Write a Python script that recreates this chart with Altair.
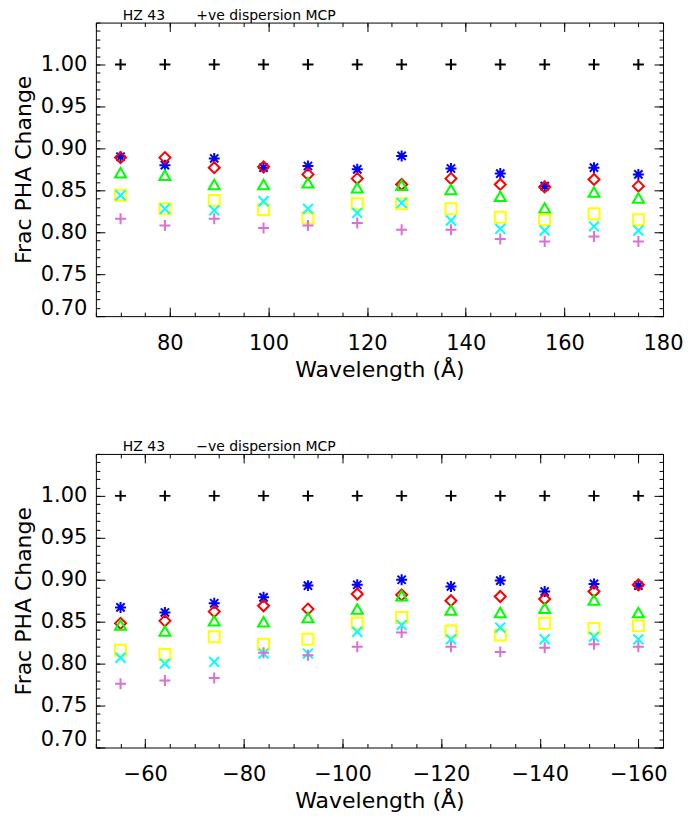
import altair as alt
import pandas as pd

# ---------------- data ----------------
series = ["ref", "s1", "s2", "s3", "s4", "s5", "s6"]
colors = ["#000000", "#0000FF", "#FF0000", "#00FF00", "#FFFF00", "#00FFFF", "#DA70D6"]

top_x = [70, 79, 89, 99, 108, 118, 127, 137, 147, 156, 166, 175]
top_ref = [1.00, 1.00, 1.00, 1.00, 1.00, 1.00, 1.00, 1.00, 1.00, 1.00, 1.00, 1.00]
top_blue = [0.890, 0.880, 0.888, 0.877, 0.879, 0.875, 0.891, 0.876, 0.870, 0.855, 0.877, 0.869]
top_red = [0.889, 0.889, 0.877, 0.878, 0.869, 0.864, 0.857, 0.864, 0.857, 0.854, 0.863, 0.855]
top_green = [0.871, 0.868, 0.857, 0.857, 0.859, 0.853, 0.856, 0.851, 0.843, 0.829, 0.848, 0.841]
top_yellow = [0.844, 0.828, 0.838, 0.827, 0.817, 0.834, 0.834, 0.828, 0.818, 0.815, 0.822, 0.815]
top_cyan = [0.844, 0.828, 0.826, 0.837, 0.828, 0.823, 0.835, 0.814, 0.804, 0.802, 0.807, 0.802]
top_magenta = [0.816, 0.808, 0.816, 0.805, 0.808, 0.811, 0.803, 0.803, 0.792, 0.789, 0.795, 0.789]

bot_x = [-55, -64, -74, -84, -93, -103, -112, -122, -132, -141, -151, -160]
bot_ref = [1.00, 1.00, 1.00, 1.00, 1.00, 1.00, 1.00, 1.00, 1.00, 1.00, 1.00, 1.00]
bot_blue = [0.867, 0.861, 0.872, 0.879, 0.893, 0.894, 0.900, 0.892, 0.899, 0.886, 0.895, 0.893]
bot_red = [0.848, 0.851, 0.862, 0.869, 0.865, 0.883, 0.882, 0.875, 0.880, 0.877, 0.886, 0.894]
bot_green = [0.846, 0.839, 0.851, 0.850, 0.855, 0.865, 0.881, 0.864, 0.861, 0.866, 0.876, 0.861]
bot_yellow = [0.816, 0.811, 0.832, 0.823, 0.829, 0.848, 0.855, 0.839, 0.834, 0.848, 0.842, 0.845]
bot_cyan = [0.807, 0.800, 0.802, 0.812, 0.812, 0.838, 0.846, 0.829, 0.843, 0.829, 0.832, 0.829]
bot_magenta = [0.776, 0.780, 0.783, 0.813, 0.810, 0.820, 0.837, 0.820, 0.814, 0.819, 0.823, 0.820]

top_major_x = [80, 100, 120, 140, 160, 180]
top_minor_x = [65, 70, 75, 80, 85, 90, 95, 100, 105, 110, 115, 120, 125, 130, 135, 140, 145, 150, 155, 160, 165, 170, 175, 180]
bot_major_x = [-60, -80, -100, -120, -140, -160]
bot_minor_x = [-50, -55, -60, -65, -70, -75, -80, -85, -90, -95, -100, -105, -110, -115, -120, -125, -130, -135, -140, -145, -150, -155, -160, -165]
major_y = [0.70, 0.75, 0.80, 0.85, 0.90, 0.95, 1.00]
labelled_y = [0.75, 0.80, 0.85, 0.90, 0.95, 1.00]
bottom_y = [0.70]
minor_y = [0.70, 0.71, 0.72, 0.73, 0.74, 0.75, 0.76, 0.77, 0.78, 0.79, 0.80, 0.81, 0.82, 0.83, 0.84,
           0.85, 0.86, 0.87, 0.88, 0.89, 0.90, 0.91, 0.92, 0.93, 0.94, 0.95, 0.96, 0.97, 0.98, 0.99,
           1.00, 1.01, 1.02, 1.03, 1.04, 1.05]

PLUS = "M-1,0L1,0M0,-1L0,1"
STAR = "M-1,0L1,0M0,-1L0,1M-0.75,-0.75L0.75,0.75M-0.75,0.75L0.75,-0.75"
XCROSS = "M-0.9,-0.9L0.9,0.9M-0.9,0.9L0.9,-0.9"
shapes = [PLUS, STAR, "diamond", "triangle-up", "square", XCROSS, PLUS]

FONT = "DejaVu Sans"
W, H = 568, 294


def make_df(xs, cols):
    rows = []
    for s, vals in zip(series, cols):
        for x, v in zip(xs, vals):
            rows.append({"x": x, "y": v, "s": s})
    return pd.DataFrame(rows)


top_df = make_df(top_x, [top_ref, top_blue, top_red, top_green, top_yellow, top_cyan, top_magenta])
bot_df = make_df(bot_x, [bot_ref, bot_blue, bot_red, bot_green, bot_yellow, bot_cyan, bot_magenta])


def tick_axis(orient, values, size, labels=False, **kw):
    return alt.Axis(orient=orient, values=values, tickSize=size, offset=-size, domain=False,
                    grid=False, labels=labels, tickColor="black", tickWidth=1, **kw)


def panel(df, xdomain, xreverse, major_x, minor_x, title):
    xs = alt.Scale(domain=xdomain, reverse=xreverse, nice=False, zero=False)
    ys = alt.Scale(domain=[0.70, 1.05], nice=False, zero=False)
    base = alt.Chart(df)
    ylab = dict(labelFontSize=21, labelPadding=9, labelOverlap=False, labelColor="black",
                labelFont=FONT, format=".2f")

    pts = base.mark_point(filled=False, strokeWidth=2, size=121, opacity=1).encode(
        x=alt.X("x:Q", scale=xs, title="Wavelength (Å)",
                axis=tick_axis("bottom", major_x, 9, labels=True, labelFontSize=21, labelPadding=16,
                               labelFlush=False, labelOverlap=False, labelColor="black", labelFont=FONT,
                               format="d", titleFontSize=22, titleFont=FONT, titleFontWeight="normal",
                               titleColor="black", titlePadding=6)),
        y=alt.Y("y:Q", scale=ys, title="Frac PHA Change",
                axis=tick_axis("left", labelled_y, 9, labels=True, titleFontSize=22, titleFont=FONT,
                               titleFontWeight="normal", titleColor="black", titlePadding=5, **ylab)),
        color=alt.Color("s:N", scale=alt.Scale(domain=series, range=colors), legend=None),
        shape=alt.Shape("s:N", scale=alt.Scale(domain=series, range=shapes), legend=None),
    )
    lab_bottom = base.mark_point(opacity=0).encode(
        x=alt.X("x:Q", scale=xs, title=None, axis=None),
        y=alt.Y("y:Q", scale=ys, title=None,
                axis=tick_axis("left", bottom_y, 9, labels=True, labelOffset=-8, **ylab)),
    )
    minor_bl = base.mark_point(opacity=0).encode(
        x=alt.X("x:Q", scale=xs, title=None, axis=tick_axis("bottom", minor_x, 4)),
        y=alt.Y("y:Q", scale=ys, title=None, axis=tick_axis("left", minor_y, 4)),
    )
    major_tr = base.mark_point(opacity=0).encode(
        x=alt.X("x:Q", scale=xs, title=None, axis=tick_axis("top", major_x, 9)),
        y=alt.Y("y:Q", scale=ys, title=None, axis=tick_axis("right", major_y, 9)),
    )
    minor_tr = base.mark_point(opacity=0).encode(
        x=alt.X("x:Q", scale=xs, title=None, axis=tick_axis("top", minor_x, 4)),
        y=alt.Y("y:Q", scale=ys, title=None, axis=tick_axis("right", minor_y, 4)),
    )
    return alt.layer(pts, lab_bottom, minor_bl, major_tr, minor_tr).resolve_axis(
        x="independent", y="independent"
    ).properties(
        width=W, height=H,
        title=alt.TitleParams(title, anchor="start", frame="group", fontSize=14, fontWeight="normal",
                              font=FONT, color="black", dx=27, offset=-1),
    )


NB = "\u00a0"
top = panel(top_df, [65, 180], False, top_major_x, top_minor_x, "HZ 43" + NB * 7 + "+ve dispersion MCP")
bot = panel(bot_df, [-165, -50], True, bot_major_x, bot_minor_x, "HZ 43" + NB * 7 + "\u2212ve dispersion MCP")

chart = alt.vconcat(top, bot, spacing=59).properties(
    padding={"left": 3, "top": 0, "right": 0, "bottom": 0}
).configure(font=FONT).configure_view(stroke="black", strokeWidth=1)

chart.save("out.html", embed_options={"renderer": "svg", "actions": False})
